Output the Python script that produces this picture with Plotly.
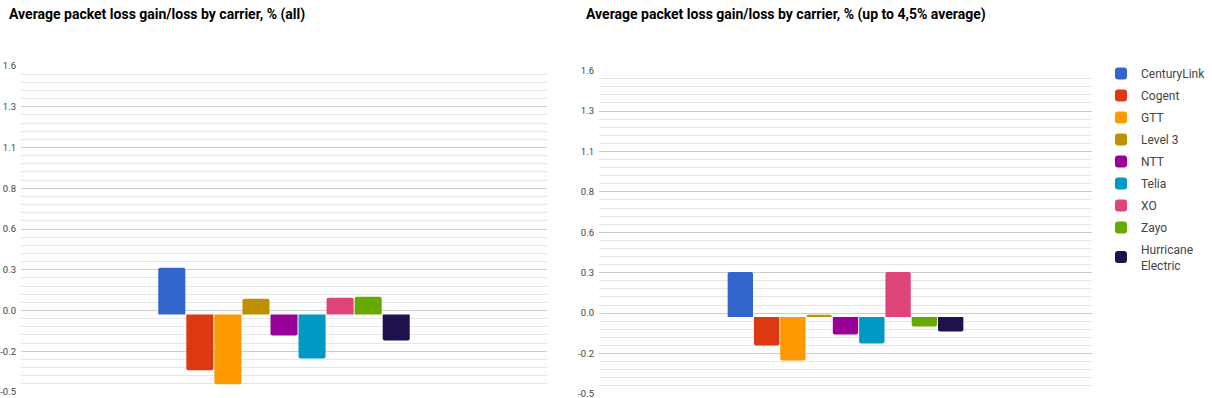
import numpy as np
import plotly.graph_objects as go

CARRIERS = ["CenturyLink", "Cogent", "GTT", "Level 3", "NTT", "Telia", "XO", "Zayo", "Hurricane Electric"]
LEGEND_NAMES = ["CenturyLink", "Cogent", "GTT", "Level 3", "NTT", "Telia", "XO", "Zayo", "Hurricane<br>Electric"]
COLORS = ["#3366cc", "#dc3912", "#ff9900", "#bf9000", "#990099", "#0099c6", "#dd4477", "#66aa00", "#20124d"]
VALUES_ALL = [0.30, -0.36, -0.45, 0.10, -0.136, -0.284, 0.107, 0.113, -0.168]
VALUES_UPTO = [0.293, -0.185, -0.282, 0.014, -0.113, -0.172, 0.293, -0.062, -0.094]
TICK_LABELS = ["-0.5", "-0.2", "0.0", "0.3", "0.6", "0.8", "1.1", "1.3", "1.6"]
TITLES = ["Average packet loss gain/loss by carrier, % (all)",
          "Average packet loss gain/loss by carrier, % (up to 4,5% average)"]
Y_MIN, Y_MAX = -0.5, 1.6

W, H = 1212, 398
fig = go.Figure()

for i, name in enumerate(CARRIERS):
    fig.add_trace(go.Bar(x=[""], y=[VALUES_ALL[i]], name=LEGEND_NAMES[i], marker_color=COLORS[i],
                         xaxis="x", yaxis="y", legendgroup=name, showlegend=True,
                         marker_line_width=0))
for i, name in enumerate(CARRIERS):
    fig.add_trace(go.Bar(x=[""], y=[VALUES_UPTO[i]], name=LEGEND_NAMES[i], marker_color=COLORS[i],
                         xaxis="x2", yaxis="y2", legendgroup=name, showlegend=False,
                         marker_line_width=0))

tickvals = list(np.linspace(Y_MIN, Y_MAX, len(TICK_LABELS)))
step = (Y_MAX - Y_MIN) / (len(TICK_LABELS) - 1)

def yaxis(domain, anchor):
    return dict(domain=domain, anchor=anchor, range=[Y_MIN - 0.002, Y_MAX + 0.002],
                tickmode="array", tickvals=tickvals, ticktext=TICK_LABELS,
                showgrid=True, gridcolor="#cccccc", gridwidth=1, zeroline=False,
                showline=False, ticks="", ticklabelstandoff=4, ticklabeloverflow="allow",
                tickfont=dict(family="Roboto", size=9.5, color="#444444"),
                minor=dict(showgrid=True, tick0=Y_MIN, dtick=step / 5, gridcolor="#e6e6e6", gridwidth=1))

def xaxis(domain, anchor):
    return dict(domain=domain, anchor=anchor, showgrid=False, zeroline=False, showline=False,
                showticklabels=False, ticks="", fixedrange=True)

fig.update_layout(
    width=W, height=H, margin=dict(l=0, r=0, t=0, b=0, autoexpand=False),
    paper_bgcolor="white", plot_bgcolor="white",
    barmode="group", bargap=0.52, bargroupgap=0.036, barcornerradius=2,
    xaxis=xaxis([21 / W, 547 / W], "y"),
    yaxis=yaxis([(H - 392.3) / H, (H - 65.7) / H], "x"),
    xaxis2=xaxis([599 / W, 1092 / W], "y2"),
    yaxis2=yaxis([(H - 394.3) / H, (H - 70.3) / H], "x2"),
    legend=dict(x=1101 / W, y=(H - 59) / H, xanchor="left", yanchor="top",
                font=dict(family="Roboto", size=12, color="#444444"),
                tracegroupgap=3, itemwidth=30, bgcolor="rgba(0,0,0,0)"),
    showlegend=True,
    font=dict(family="Roboto"),
)

fig.add_annotation(text="<b>" + TITLES[0] + "</b>", xref="paper", yref="paper", x=7 / W, y=(H - 15) / H,
                   xanchor="left", yanchor="middle", showarrow=False,
                   font=dict(family="Roboto", size=14, color="#000000"))
fig.add_annotation(text="<b>" + TITLES[1] + "</b>", xref="paper", yref="paper", x=584 / W, y=(H - 15) / H,
                   xanchor="left", yanchor="middle", showarrow=False,
                   font=dict(family="Roboto", size=14, color="#000000"))

fig.write_html("out.html", config={"displayModeBar": False},
               post_script="document.body.style.margin='0';document.body.style.overflow='hidden';")
